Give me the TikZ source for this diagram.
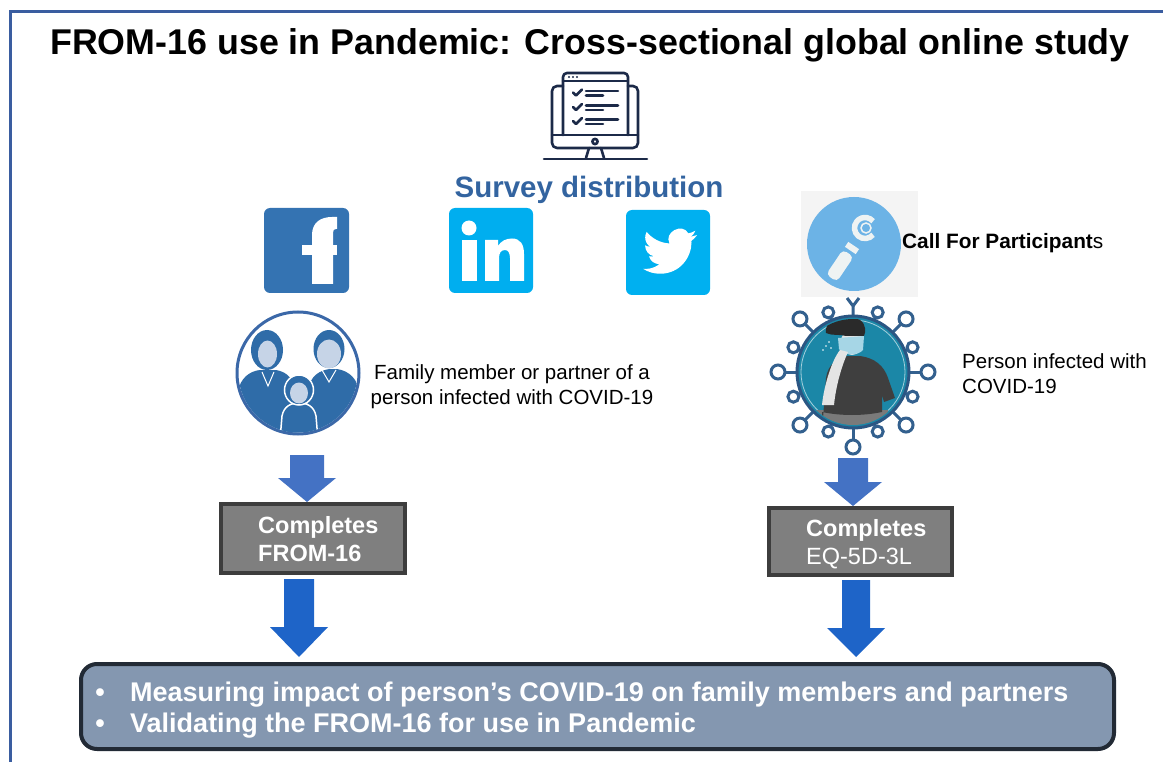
\documentclass[tikz,border=0pt]{standalone}
\usepackage{fontspec}
\setmainfont{Liberation Sans}
\usetikzlibrary{calc}

\definecolor{framec}{HTML}{3A5DA0}
\definecolor{surveyc}{HTML}{3364A0}
\definecolor{fbblue}{HTML}{3473B2}
\definecolor{liblue}{HTML}{00AEEF}
\definecolor{twblue}{HTML}{00B0F0}
\definecolor{navy}{HTML}{1C2A48}
\definecolor{callbg}{HTML}{F4F4F4}
\definecolor{callblue}{HTML}{6CB3E6}
\definecolor{lens}{HTML}{EEF3F3}
\definecolor{famblue}{HTML}{2F6CA8}
\definecolor{famface}{HTML}{C6D4E7}
\definecolor{famring}{HTML}{3B68A8}
\definecolor{spike}{HTML}{33608E}
\definecolor{virusfill}{HTML}{1B87A7}
\definecolor{virusring}{HTML}{2B5683}
\definecolor{shirt}{HTML}{3F3F3F}
\definecolor{hair}{HTML}{2A2A2A}
\definecolor{maskc}{HTML}{A6D6E6}
\definecolor{skin}{HTML}{E4E4E4}
\definecolor{pants}{HTML}{7A7A7A}
\definecolor{smallarrow}{HTML}{4472C4}
\definecolor{bigarrow}{HTML}{1E64C8}
\definecolor{boxfill}{HTML}{7F7F7F}
\definecolor{boxline}{HTML}{3D3D3D}
\definecolor{outfill}{HTML}{8497B0}
\definecolor{outedge}{HTML}{222A35}

% downward block arrow: style, tip, total length, head length, shaft half width, head half width
\newcommand\blockarrow[6]{%
  \fill[#1] ($(#2)+(-#5,-#3)$) -- ($(#2)+(#5,-#3)$) -- ($(#2)+(#5,-#4)$)
    -- ($(#2)+(#6,-#4)$) -- (#2) -- ($(#2)+(-#6,-#4)$) -- ($(#2)+(-#5,-#4)$) -- cycle;}

\begin{document}
\begin{tikzpicture}[x=1pt,y=-1pt,
  titletext/.style={font=\fontsize{35.8}{42}\selectfont\bfseries, inner sep=0pt},
  surveytext/.style={font=\fontsize{29.5}{34}\selectfont\bfseries, text=surveyc, inner sep=0pt},
  bodytext/.style={font=\fontsize{20.5}{24.5}\selectfont, inner sep=0pt},
  calltext/.style={font=\fontsize{20.8}{24}\selectfont, inner sep=0pt},
  stepbox/.style={draw=boxline, fill=boxfill, line width=4pt, inner sep=0pt},
  boxtext/.style={font=\fontsize{23.5}{28}\selectfont, text=white, align=left, inner sep=0pt},
  outbox/.style={draw=outedge, fill=outfill, line width=4pt, rounded corners=16pt, inner sep=0pt},
  outtext/.style={font=\fontsize{27}{31}\selectfont\bfseries, text=white, inner sep=0pt},
  icon/.style={line width=2.6pt, draw=navy, line cap=round, line join=round},
]
\useasboundingbox (0,0) rectangle (1163,762);

% page frame (open on the right and bottom)
\draw[framec, line width=3pt] (10.5,762) -- (10.5,11.5) -- (1163,11.5);

% title
\node[titletext, anchor=base] (title) at (590,55)
  {FROM-16 use in Pandemic: Cross-sectional global online study};

% monitor with checklist
\begin{scope}[icon]
  \draw[rounded corners=4pt] (563,135) -- (563,73) -- (628,73) -- (628,135);
  \draw (563,81) -- (628,81);
  \fill[navy] (569,77) circle (1.2) (573,77) circle (1.2) (577,77) circle (1.2);
  \draw[rounded corners=5pt] (563,86) -- (552,86) -- (552,148) -- (638,148) -- (638,86) -- (628,86);
  \draw (552,135) -- (638,135);
  \draw (595,141.5) circle (2.6);
  \draw (589,148) -- (586,158);
  \draw (601,148) -- (604,158);
  \draw (544,159) -- (647,159);
  \foreach \y in {92.5,107,121} {
    \draw (573,\y) -- (576,\y+3) -- (582,\y-3);
    \draw (586,\y-1.5) -- (618,\y-1.5);
    \draw (586,\y+3) -- (603,\y+3);
  }
\end{scope}

\node[surveytext, anchor=base] (survey) at (589,198) {Survey distribution};

% Facebook
\fill[fbblue, rounded corners=6pt] (264,208) rectangle (349,293);
\fill[white] (312,284) -- (312,235) .. controls (312,223) and (320,217) .. (332,217)
  -- (337,217) -- (337,229) -- (336,229) .. controls (334,229) and (333,230) .. (333,233)
  -- (333,284) -- cycle;
\fill[white] (302,245) rectangle (337,255.5);

% LinkedIn
\fill[liblue, rounded corners=6pt] (449,208) rectangle (533,293);
\fill[white] (469,228) circle (7.5);
\fill[white] (462,240) rectangle (477,281);
\fill[white] (485,281) -- (485,240) -- (498,240) -- (498,246)
  .. controls (501,241) and (506,238.5) .. (512,238.5)
  .. controls (520,238.5) and (524,244) .. (524,254) -- (524,281) -- (510,281) -- (510,258)
  .. controls (510,253) and (508,250) .. (505,250)
  .. controls (501,250) and (499,253) .. (499,258) -- (499,281) -- cycle;

% Twitter
\fill[twblue, rounded corners=6pt] (626,210) rectangle (710,295);
\begin{scope}[shift={(643,224.8)}, x=2.25pt, y=-2.25pt]
  \fill[white] (23.953,4.57) -- (21.128,5.345)
    .. controls (22.1,4.75) and (22.9,3.8) .. (23.291,2.622)
    .. controls (22.34,3.177) and (21.286,3.581) .. (20.164,3.806)
    .. controls (17.52,-1.13) and (9.14,3.35) .. (11.78,8.288)
    .. controls (7.69,8.095) and (4.067,6.13) .. (1.64,3.162)
    .. controls (1.22,3.9) and (0.974,4.75) .. (0.974,5.637)
    .. controls (0.974,7.347) and (1.844,8.85) .. (3.162,9.733)
    .. controls (2.35,9.71) and (1.6,9.48) .. (0.934,9.117)
    -- (0.934,9.177)
    .. controls (0.934,11.55) and (2.6,13.55) .. (4.88,14.004)
    .. controls (4.15,14.2) and (3.4,14.23) .. (2.668,14.089)
    .. controls (3.3,16.05) and (5.1,17.46) .. (7.272,17.506)
    .. controls (5.55,18.86) and (3.4,19.611) .. (1.17,19.611)
    .. controls (0.78,19.611) and (0.391,19.588) .. (0,19.544)
    .. controls (2.25,20.99) and (4.87,21.753) .. (7.557,21.753)
    .. controls (16.61,21.753) and (21.555,14.257) .. (21.555,7.768)
    .. controls (21.555,7.558) and (21.555,7.348) .. (21.54,7.138)
    .. controls (22.5,6.45) and (23.35,5.56) .. (24,4.59) -- cycle;
\end{scope}

% Call For Participants badge
\fill[callbg] (801,191) rectangle (918,297);
\fill[callblue] (854,244) circle (47);
\draw[lens, line width=5.5pt] ($(865,228)+(40:10.5)$) arc[start angle=40, end angle=320, radius=10.5];
\draw[lens, line width=1.5pt] (866,228) circle (5);
\fill[lens, rotate around={-34:(852,248)}] (845.5,245) rectangle (858.5,251);
\fill[lens, rounded corners=4.5pt, rotate around={-34:(841,264)}] (834.5,251) rectangle (847.5,281);
\node[calltext, anchor=base west] (call) at (902,249) {\textbf{Call For Participant}s};

% family group
\node[circle, draw=famring, fill=white, line width=3pt, minimum size=122pt, inner sep=0pt] (fam) at (298,373) {};
\begin{scope}
  \clip (298,373) circle (59.5);
  % woman
  \fill[famblue] (236,440) -- (238,392) .. controls (240,378) and (250,371) .. (260,370)
    -- (276,370) .. controls (288,372) and (294,380) .. (295,392) -- (297,440) -- cycle;
  \fill[famblue] (267,350) ellipse (16 and 20);
  \fill[famface] (267.5,354) ellipse (9.5 and 13.5);
  \draw[white, line width=1pt] (262,372) -- (268,386) -- (274,372);
  % man
  \fill[famblue] (306,440) -- (308,390) .. controls (310,376) and (320,370) .. (330,369)
    -- (337,369) .. controls (350,371) and (358,380) .. (359,392) -- (360,440) -- cycle;
  \fill[famblue] (329,349) ellipse (15.5 and 19);
  \fill[famface] (329,354) ellipse (12 and 14.5);
  \draw[white, line width=1pt] (322,370) -- (329,382) -- (336,370);
  % child
  \fill[famblue, draw=white, line width=1.5pt] (280,440) -- (282,416)
    .. controls (284,406) and (291,403) .. (299,403) .. controls (307,403) and (314,406) .. (316,416)
    -- (318,440) -- cycle;
  \fill[famblue, draw=white, line width=1.5pt] (299,390) ellipse (14.5 and 15);
  \fill[famface] (299,393) ellipse (9 and 10.5);
\end{scope}
\node[bodytext, align=center, anchor=base] (famtxt) at (512,404)
  {Family member or partner of a\\person infected with COVID-19};

% virus with infected person
\begin{scope}[shift={(853,372)}]
  \begin{scope}[draw=spike, line width=3pt]
    \foreach \a in {0,45,90,135,180,225,315} {
      \draw (\a:54) -- (\a:68);
      \draw (\a:75) circle (7);
    }
    \foreach \a in {22.5,67.5,...,337.5} {
      \draw (\a:54) -- (\a:59);
      \draw (\a:64.5) circle (5.5);
    }
    \draw (0,-54) -- (0,-66) -- (-6,-74);
    \draw (0,-66) -- (6,-74);
  \end{scope}
  \node[circle, draw=virusring, fill=virusfill, line width=3pt, minimum size=112pt, inner sep=0pt] (virus) at (0,0) {};
  \begin{scope}
    \clip (0,0) circle (53);
    \draw[white!60!virusfill, line width=0.8pt] (0,0) circle (52);
    \fill[pants] (-40,38) rectangle (35,60);
    \fill[shirt] (-31,60) -- (-27,6) .. controls (-25,-8) and (-15,-15) .. (-5,-16)
      -- (7,-16) .. controls (22,-14) and (31,-6) .. (35,6) -- (42,26) -- (31,30)
      -- (29,23) -- (29,40) .. controls (10,44) and (-12,44) .. (-31,40) -- cycle;
    \fill[skin] (-1,-30) ellipse (11 and 13);
    \fill[hair] (-27,-39) .. controls (-29,-54) and (-8,-59) .. (7,-52)
      .. controls (13,-48) and (13,-40) .. (11,-36) -- (-7,-36)
      .. controls (-13,-38) and (-21,-36) .. (-27,-39) -- cycle;
    \fill[maskc] (-15,-34) -- (11,-36) -- (10,-22) .. controls (5,-16) and (-9,-16) .. (-14,-23) -- cycle;
    \fill[skin] (-31,33) .. controls (-29,13) and (-21,-12) .. (-13,-22) -- (-5,-20)
      .. controls (-11,-7) and (-17,13) .. (-19,33) -- cycle;
    \fill[white] (-27,-26) circle (0.9) (-24,-30) circle (0.9) (-30,-22) circle (0.9) (-22,-24) circle (0.8);
  \end{scope}
\end{scope}
\node[bodytext, align=left, anchor=base west] (pertxt) at (962,393)
  {Person infected with\\COVID-19};

% step boxes
\node[stepbox, minimum width=184pt, minimum height=69pt] (box1) at (313,538.5) {};
\node[boxtext, anchor=base west] (box1t) at (258,561) {\textbf{Completes}\\\textbf{FROM-16}};
\node[stepbox, minimum width=183pt, minimum height=67pt] (box2) at (860.5,541.5) {};
\node[boxtext, anchor=base west] (box2t) at (806,564) {\textbf{Completes}\\EQ-5D-3L};

% outcome box
\node[outbox, minimum width=1033pt, minimum height=85pt] (out) at (597.5,706.5) {};
\node[outtext, anchor=base] (dot1) at (100,701) {•};
\node[outtext, anchor=base west] (line1) at (130,701)
  {Measuring impact of person’s COVID-19 on family members and partners};
\node[outtext, anchor=base] (dot2) at (100,732) {•};
\node[outtext, anchor=base west] (line2) at (130,732)
  {Validating the FROM-16 for use in Pandemic};

% arrows
\coordinate (tipA) at ([xshift=-6pt]box1.north);
\coordinate (tipB) at ($(299,0 |- out.north)+(0,-5)$);
\coordinate (tipC) at ([xshift=-7.5pt]box2.north);
\coordinate (tipD) at ($(856,0 |- out.north)+(0,-5)$);
\blockarrow{smallarrow}{tipA}{47}{24}{17}{29}
\blockarrow{smallarrow}{tipC}{48}{24}{15}{29}
\blockarrow{bigarrow}{tipB}{78}{30}{15}{29}
\blockarrow{bigarrow}{tipD}{77}{29}{14}{29}
\end{tikzpicture}
\end{document}
